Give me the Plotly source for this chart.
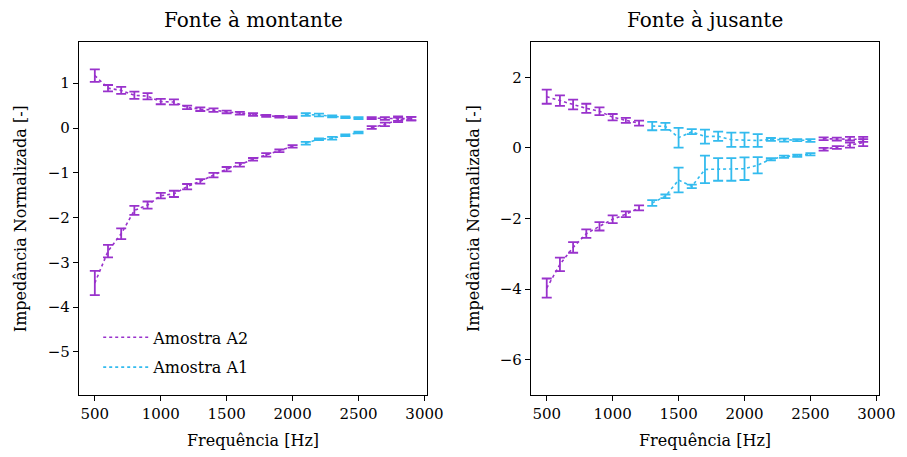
import plotly.graph_objects as go

freqs = [500, 600, 700, 800, 900, 1000, 1100, 1200, 1300, 1400, 1500, 1600, 1700,
         1800, 1900, 2000, 2100, 2200, 2300, 2400, 2500, 2600, 2700, 2800, 2900]

# Fonte à montante
left_upper = [1.17, 0.89, 0.84, 0.73, 0.71, 0.59, 0.58, 0.46, 0.42, 0.40, 0.36, 0.33, 0.30,
              0.27, 0.25, 0.24, 0.30, 0.29, 0.26, 0.24, 0.22, 0.22, 0.21, 0.21, 0.21]
left_upper_err = [0.14, 0.07, 0.08, 0.08, 0.07, 0.06, 0.06, 0.04, 0.04, 0.04, 0.03, 0.03, 0.03,
                  0.02, 0.02, 0.02, 0.03, 0.03, 0.02, 0.02, 0.02, 0.02, 0.03, 0.05, 0.04]
left_lower = [-3.46, -2.75, -2.36, -1.84, -1.72, -1.51, -1.47, -1.31, -1.19, -1.05, -0.92, -0.82, -0.70,
              -0.60, -0.51, -0.41, -0.34, -0.25, -0.23, -0.16, -0.10, 0.01, 0.08, 0.18, 0.21]
left_lower_err = [0.27, 0.14, 0.12, 0.10, 0.08, 0.06, 0.07, 0.06, 0.05, 0.05, 0.05, 0.04, 0.03,
                  0.04, 0.03, 0.03, 0.03, 0.02, 0.03, 0.02, 0.02, 0.03, 0.04, 0.05, 0.04]
left_sample = ["A2"] * 16 + ["A1"] * 5 + ["A2"] * 4

# Fonte à jusante
right_upper = [1.45, 1.34, 1.23, 1.12, 1.04, 0.87, 0.78, 0.70, 0.62, 0.61, 0.29, 0.46, 0.32,
               0.33, 0.23, 0.23, 0.21, 0.24, 0.22, 0.22, 0.21, 0.26, 0.25, 0.26, 0.24]
right_upper_err = [0.20, 0.15, 0.14, 0.13, 0.11, 0.09, 0.07, 0.07, 0.12, 0.10, 0.28, 0.07, 0.20,
                   0.13, 0.20, 0.20, 0.18, 0.04, 0.04, 0.03, 0.04, 0.04, 0.04, 0.05, 0.07]
right_lower = [-3.97, -3.30, -2.82, -2.43, -2.22, -2.02, -1.88, -1.70, -1.56, -1.37, -0.91, -1.09, -0.61,
               -0.61, -0.61, -0.59, -0.49, -0.32, -0.25, -0.22, -0.18, -0.04, 0.01, 0.08, 0.15]
right_lower_err = [0.27, 0.19, 0.15, 0.12, 0.12, 0.11, 0.08, 0.07, 0.08, 0.05, 0.35, 0.05, 0.39,
                   0.32, 0.32, 0.32, 0.23, 0.03, 0.03, 0.03, 0.03, 0.04, 0.04, 0.07, 0.10]
right_sample = ["A2"] * 8 + ["A1"] * 13 + ["A2"] * 4

samples = ["A2", "A1"]
sample_names = {"A2": "Amostra A2", "A1": "Amostra A1"}
colors = {"A2": "#9932CC", "A1": "#33BBEE"}

FONT = "DejaVu Serif, Liberation Serif, serif"
FS_TICK = 15
FS_LABEL = 16
FS_TITLE = 20

fig = go.Figure()

panels = [
    ("x", "y", left_sample, [(left_upper, left_upper_err), (left_lower, left_lower_err)]),
    ("x2", "y2", right_sample, [(right_upper, right_upper_err), (right_lower, right_lower_err)]),
]

for pi, (xa, ya, smp, curves) in enumerate(panels):
    for s in samples:
        for ci, (vals, errs) in enumerate(curves):
            y = [v if k == s else None for v, k in zip(vals, smp)]
            e = [v if k == s else None for v, k in zip(errs, smp)]
            fig.add_trace(go.Scatter(
                x=freqs, y=y, xaxis=xa, yaxis=ya, mode="lines",
                line=dict(color=colors[s], width=1.6, dash="dot"),
                error_y=dict(type="data", array=e, visible=True, color=colors[s],
                             thickness=1.8, width=5),
                name=sample_names[s], legendgroup=s,
                showlegend=(pi == 0 and ci == 0),
                connectgaps=False,
            ))

axis_common = dict(
    showline=True, linecolor="black", linewidth=1.3, mirror=True,
    ticks="outside", ticklen=5, tickwidth=1, tickcolor="black",
    showgrid=False, zeroline=False,
    tickfont=dict(family=FONT, size=FS_TICK, color="black"),
)

fig.update_layout(
    width=907, height=457,
    margin=dict(l=79, r=19, t=42, b=62),
    paper_bgcolor="white", plot_bgcolor="white",
    font=dict(family=FONT, size=FS_TICK, color="black"),
    xaxis=dict(domain=[0, 0.4351], range=[380, 3020], tickvals=[500, 1000, 1500, 2000, 2500, 3000], **axis_common),
    xaxis2=dict(domain=[0.5649, 1], range=[380, 3020], tickvals=[500, 1000, 1500, 2000, 2500, 3000], anchor="y2", **axis_common),
    yaxis=dict(range=[-5.96, 1.92], tickvals=[1, 0, -1, -2, -3, -4, -5], **axis_common),
    yaxis2=dict(range=[-7, 3], tickvals=[2, 0, -2, -4, -6], anchor="x2", **axis_common),
    legend=dict(x=0.024, y=0.03, xanchor="left", yanchor="bottom",
                bgcolor="rgba(0,0,0,0)", font=dict(family=FONT, size=FS_LABEL),
                traceorder="grouped", tracegroupgap=6, itemwidth=45),
    showlegend=True,
)

annots = [
    dict(text="Fonte à montante", x=0.4351 / 2, y=1.062, size=FS_TITLE),
    dict(text="Fonte à jusante", x=(0.5649 + 1) / 2, y=1.062, size=FS_TITLE),
    dict(text="Frequência [Hz]", x=0.4351 / 2, y=-0.13, size=FS_LABEL),
    dict(text="Frequência [Hz]", x=(0.5649 + 1) / 2, y=-0.13, size=FS_LABEL),
]
for a in annots:
    fig.add_annotation(xref="paper", yref="paper", showarrow=False,
                       xanchor="center", yanchor="middle", text=a["text"], x=a["x"], y=a["y"],
                       font=dict(family=FONT, size=a["size"], color="black"))

for xpix in (20, 478):
    fig.add_annotation(text="Impedância Normalizada [-]", xref="paper", yref="paper",
                       x=(xpix - 79) / 809, y=0.5, textangle=-90, showarrow=False,
                       xanchor="center", yanchor="middle",
                       font=dict(family=FONT, size=FS_LABEL, color="black"))

fig.write_html("out.html")
